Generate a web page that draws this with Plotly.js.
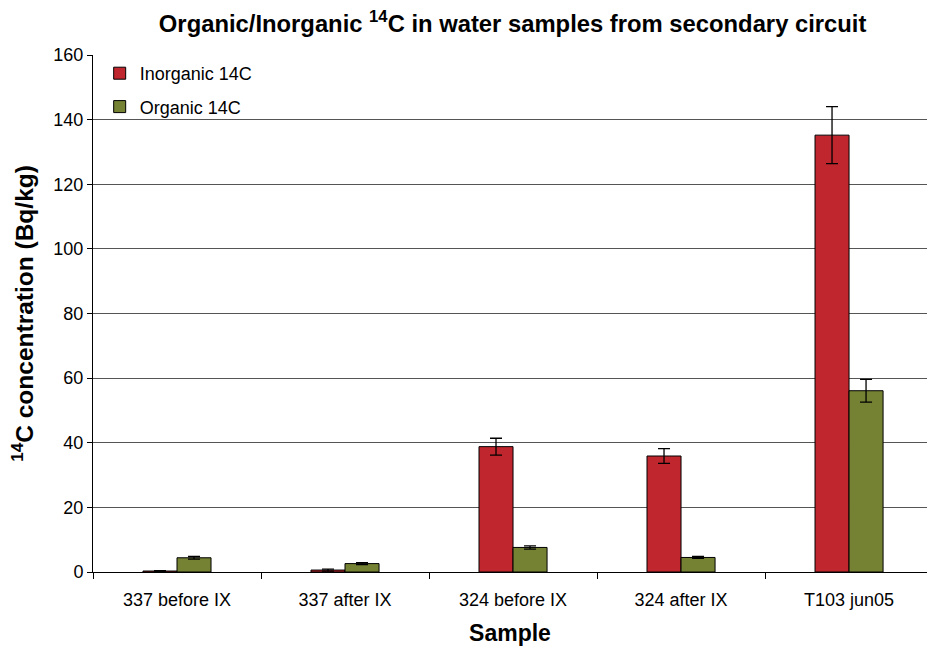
<!DOCTYPE html>
<html>
<head>
<meta charset="utf-8">
<script src="https://cdn.plot.ly/plotly-3.0.1.min.js"></script>
<style>html,body{margin:0;padding:0;background:#fff;}#chart{width:927px;height:648px;}</style>
</head>
<body>
<div id="chart"></div>
<script>
const categories = ["337 before IX", "337 after IX", "324 before IX", "324 after IX", "T103 jun05"];
const inorganic = [0.3, 0.6, 38.8, 35.9, 135.2];
const inorganicErr = [0.1, 0.3, 2.6, 2.3, 8.8];
const organic = [4.4, 2.6, 7.6, 4.5, 56.1];
const organicErr = [0.4, 0.3, 0.5, 0.3, 3.5];

const traces = [
  {type: "bar", name: "Inorganic 14C", legendgroup: "a", x: categories, y: inorganic,
   marker: {color: "#C0262D", line: {color: "#000", width: 1}},
   error_y: {type: "data", array: inorganicErr, visible: true, color: "#000", thickness: 1.3, width: 6}},
  {type: "bar", name: "Organic 14C", legendgroup: "b", x: categories, y: organic,
   marker: {color: "#758233", line: {color: "#000", width: 1}},
   error_y: {type: "data", array: organicErr, visible: true, color: "#000", thickness: 1.3, width: 6}}
];

const layout = {
  width: 927, height: 648,
  margin: {l: 93, r: 0, t: 55, b: 76},
  paper_bgcolor: "#fff", plot_bgcolor: "#fff",
  font: {family: "Liberation Sans, Arial, sans-serif", color: "#000", size: 18},
  title: {text: "<b>Organic/Inorganic <sup>14</sup>C in water samples from secondary circuit</b>",
          font: {size: 23.8}, x: 0.553, xanchor: "center", y: 0.977, yanchor: "top"},
  barmode: "group", bargap: 0.595, bargroupgap: 0,
  showlegend: true,
  legend: {x: 0.008, y: 1.0, xanchor: "left", yanchor: "top", bgcolor: "rgba(0,0,0,0)",
           font: {size: 18}, tracegroupgap: 7, traceorder: "grouped"},
  xaxis: {type: "category", range: [-0.5, 4.464], tickson: "boundaries",
          ticks: "outside", ticklen: 6, tickcolor: "#000", showline: true, linecolor: "#000", linewidth: 1,
          showgrid: false, tickfont: {size: 18}, ticklabelstandoff: 11,
          title: {text: "<b>Sample</b>", font: {size: 23}, standoff: 16}},
  yaxis: {range: [0, 160], dtick: 20, ticks: "outside", ticklen: 5, tickcolor: "#000",
          showline: true, linecolor: "#000", linewidth: 1,
          showgrid: true, gridcolor: "#555", gridwidth: 1, zeroline: false,
          tickfont: {size: 18},
          title: {text: "<b><sup>14</sup>C concentration (Bq/kg)</b>", font: {size: 24.5}, standoff: 12}}
};

Plotly.newPlot("chart", traces, layout, {displayModeBar: false, staticPlot: true});
</script>
</body>
</html>
